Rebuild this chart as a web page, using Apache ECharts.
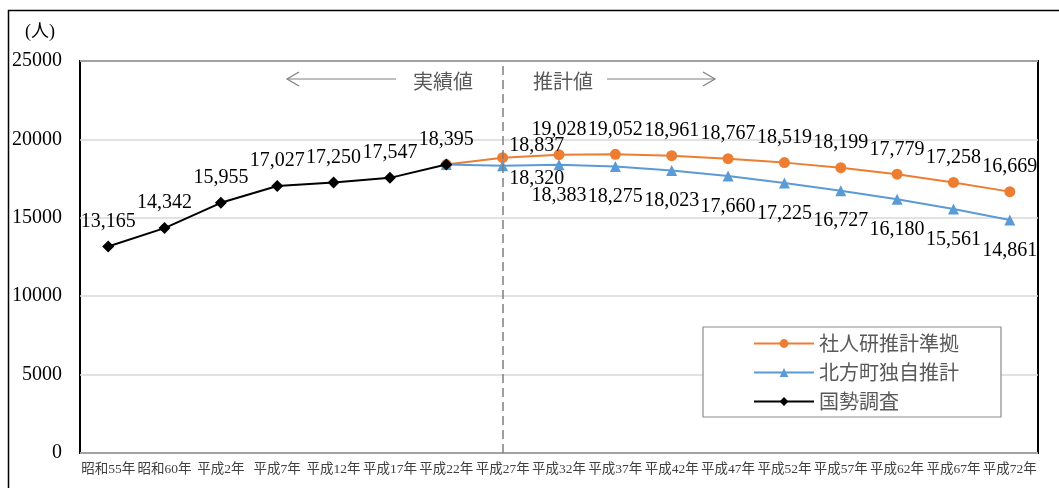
<!DOCTYPE html>
<html>
<head>
<meta charset="utf-8">
<script src="https://cdn.jsdelivr.net/npm/echarts@6/dist/echarts.min.js"></script>
<style>
  html, body { margin: 0; padding: 0; background: #fff; }
  #chart { width: 1059px; height: 488px; }
</style>
</head>
<body>
<div id="chart"></div>
<script>
// 年次（国勢調査年）
const years = ['昭和55年', '昭和60年', '平成2年', '平成7年', '平成12年', '平成17年', '平成22年',
  '平成27年', '平成32年', '平成37年', '平成42年', '平成47年', '平成52年', '平成57年',
  '平成62年', '平成67年', '平成72年'];

// 実績値（国勢調査）
const census = [13165, 14342, 15955, 17027, 17250, 17547, 18395];

// 推計値：平成22年の実績から接続
const ipssBased = [18395, 18837, 19028, 19052, 18961, 18767, 18519, 18199, 17779, 17258, 16669];
const townOwn = [18395, 18320, 18383, 18275, 18023, 17660, 17225, 16727, 16180, 15561, 14861];

const seriesNames = ['社人研推計準拠', '北方町独自推計', '国勢調査'];
const yTicks = { min: 0, max: 25000, interval: 5000 };
const startIdx = census.length - 1;   // 推計の起点（平成22年）
const boundaryYear = '平成27年';      // 実績値／推計値の境界

const serif = "'Liberation Serif', 'Noto Sans CJK JP', serif";
const gothic = "'Noto Sans CJK JP', sans-serif";

function padded(values, offset) {
  const out = new Array(years.length).fill(null);
  values.forEach((v, i) => { out[offset + i] = v; });
  return out;
}

// 推計系列のデータ：起点はラベルなし、平成27年のみ右側にラベルを置く
function projectionData(values, labelAbove) {
  return padded(values, startIdx).map((v, i) => {
    if (v === null) return null;
    if (i === startIdx) return { value: v, label: { show: false } };
    if (i === startIdx + 1) {
      return {
        value: v,
        label: { position: 'right', distance: 1, offset: [0, labelAbove ? -12 : 13], align: 'left' }
      };
    }
    return v;
  });
}

const fmt = p => Number(p.value).toLocaleString('en-US');
const labelText = { fontFamily: serif, fontSize: 20, color: '#000' };

const chart = echarts.init(document.getElementById('chart'), null, { renderer: 'canvas' });

chart.setOption({
  animation: false,
  backgroundColor: '#fff',
  grid: {
    left: 80, top: 61, right: 21, bottom: 35,
    show: true, borderColor: '#000', borderWidth: 2, backgroundColor: 'transparent'
  },
  legend: {
    orient: 'vertical',
    left: 703, top: 327,
    padding: [6, 42, 5, 50],
    itemWidth: 60, itemHeight: 11, itemGap: 8,
    backgroundColor: '#fff',
    borderColor: '#8c8c8c', borderWidth: 1.2,
    textStyle: { fontFamily: gothic, fontSize: 20, color: '#595959', lineHeight: 21 },
    data: seriesNames
  },
  xAxis: {
    type: 'category',
    data: years,
    boundaryGap: true,
    axisLine: { show: false },
    axisTick: { show: false },
    axisLabel: { interval: 0, margin: 10, fontFamily: serif, fontSize: 13.5, color: '#404040' },
    splitLine: { show: false }
  },
  yAxis: {
    type: 'value',
    min: yTicks.min, max: yTicks.max, interval: yTicks.interval,
    axisLine: { show: false },
    axisTick: { show: false },
    axisLabel: { margin: 18, fontFamily: serif, fontSize: 20, color: '#000', formatter: v => String(v) },
    splitLine: { lineStyle: { color: '#d9d9d9', width: 1.5 } }
  },
  series: [
    {
      name: seriesNames[0],
      type: 'line',
      data: projectionData(ipssBased, true),
      symbol: 'circle', symbolSize: 11,
      itemStyle: { color: '#ED7D31' },
      lineStyle: { color: '#ED7D31', width: 2 },
      label: { show: true, position: 'top', distance: 9, formatter: fmt, ...labelText },
      markLine: {
        silent: true,
        symbol: 'none',
        label: { show: false },
        lineStyle: { color: '#7f7f7f', type: [9, 5], width: 1.5 },
        data: [{ xAxis: boundaryYear }]
      },
      z: 2
    },
    {
      name: seriesNames[1],
      type: 'line',
      data: projectionData(townOwn, false),
      symbol: 'triangle', symbolSize: 11,
      itemStyle: { color: '#5B9BD5' },
      lineStyle: { color: '#5B9BD5', width: 2 },
      label: { show: true, position: 'bottom', distance: 15, formatter: fmt, ...labelText },
      z: 3
    },
    {
      name: seriesNames[2],
      type: 'line',
      data: padded(census, 0),
      symbol: 'diamond', symbolSize: 12,
      itemStyle: { color: '#000' },
      lineStyle: { color: '#000', width: 2 },
      label: { show: true, position: 'top', distance: 9, formatter: fmt, ...labelText },
      z: 4
    }
  ],
  graphic: [
    // 外枠
    {
      type: 'rect', left: 6, top: 8, z: 0, silent: true,
      shape: { width: 1100, height: 600 },
      style: { fill: 'none', stroke: '#000', lineWidth: 1.5 }
    },
    // 単位
    {
      type: 'text', x: 25, y: 32, silent: true,
      style: { text: '(人)', font: "18px 'Liberation Serif', 'Noto Sans CJK JP'", fill: '#000', textVerticalAlign: 'middle' }
    },
    // ← 実績値 ｜ 推計値 →
    {
      type: 'group', silent: true, z: 10,
      children: [
        { type: 'line', shape: { x1: 287, y1: 79, x2: 396, y2: 79 }, style: { stroke: '#7f7f7f', lineWidth: 1.2 } },
        { type: 'polyline', shape: { points: [[299, 72], [287, 79], [299, 86]] }, style: { stroke: '#7f7f7f', lineWidth: 1.2, fill: 'none' } },
        { type: 'text', x: 413, y: 81, style: { text: '実績値', font: "20px 'Noto Sans CJK JP'", fill: '#595959', textVerticalAlign: 'middle' } },
        { type: 'text', x: 533, y: 81, style: { text: '推計値', font: "20px 'Noto Sans CJK JP'", fill: '#595959', textVerticalAlign: 'middle' } },
        { type: 'line', shape: { x1: 607, y1: 79, x2: 715, y2: 79 }, style: { stroke: '#7f7f7f', lineWidth: 1.2 } },
        { type: 'polyline', shape: { points: [[703, 72], [715, 79], [703, 86]] }, style: { stroke: '#7f7f7f', lineWidth: 1.2, fill: 'none' } }
      ]
    }
  ]
});
</script>
</body>
</html>
